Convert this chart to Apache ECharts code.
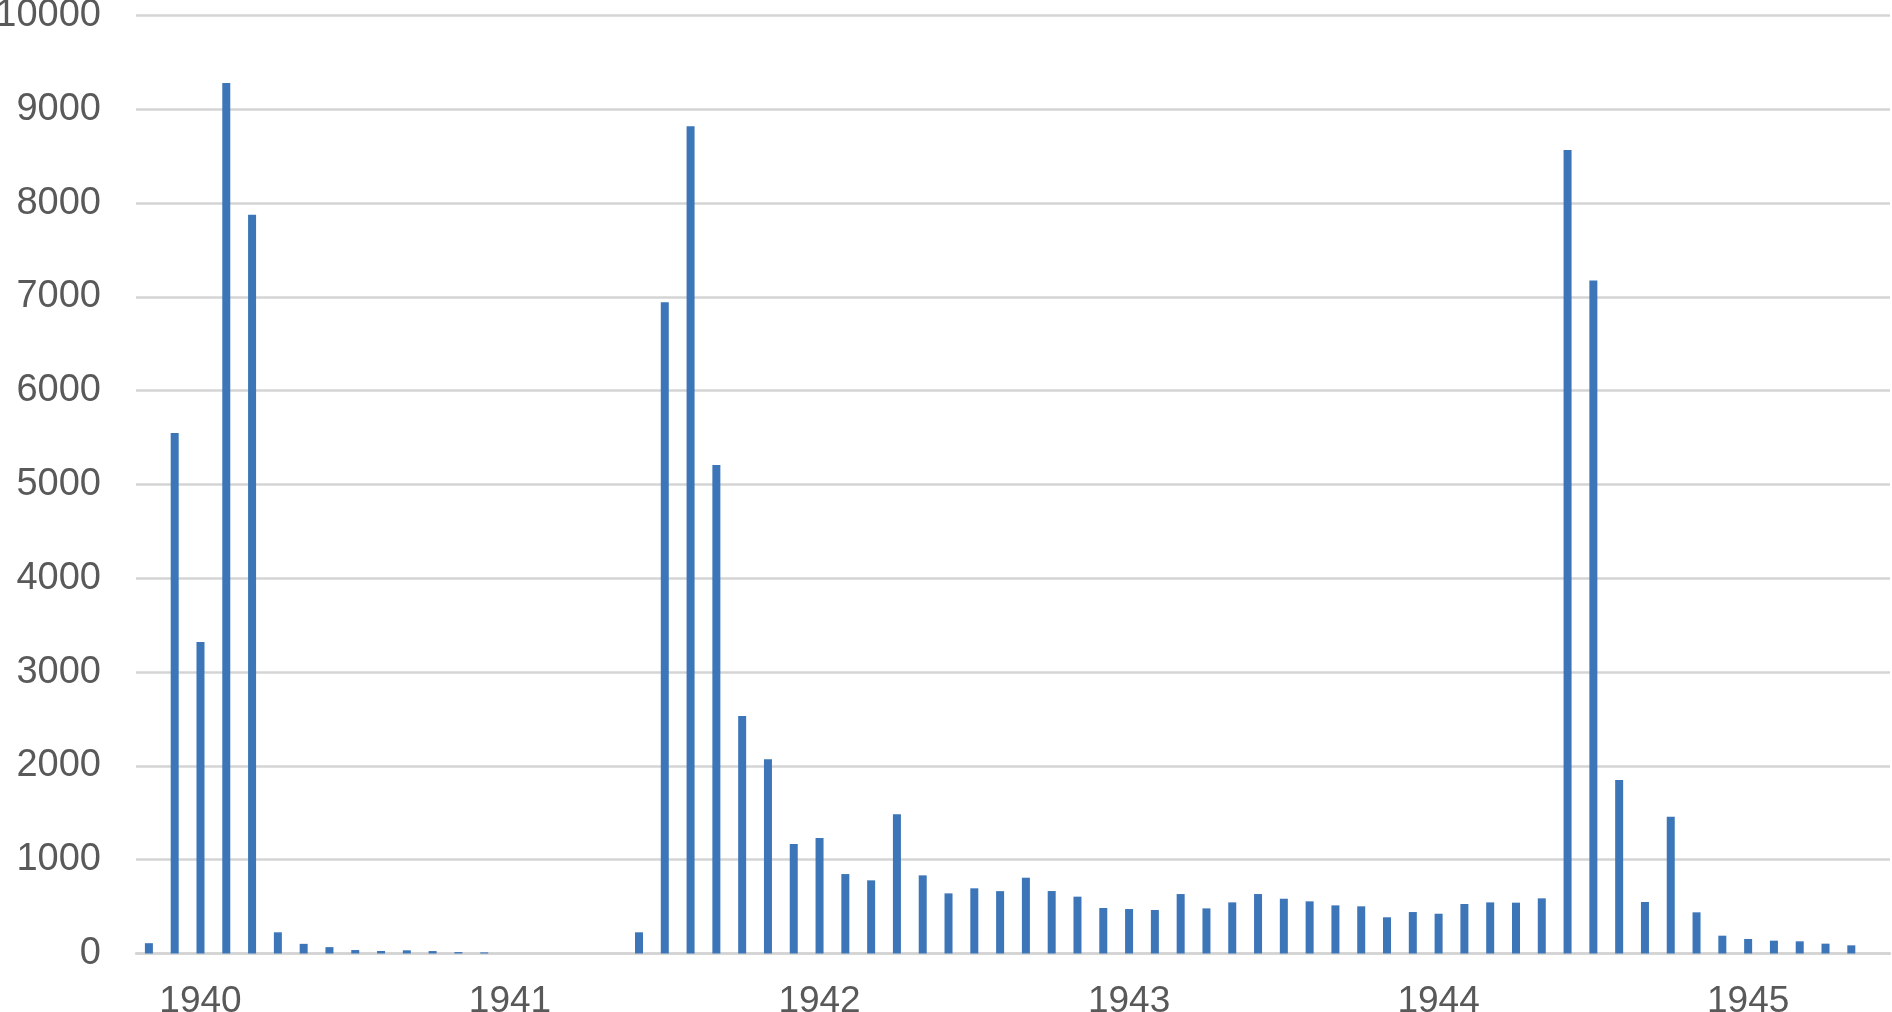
<!DOCTYPE html>
<html>
<head>
<meta charset="utf-8">
<script src="https://cdn.jsdelivr.net/npm/echarts@6/dist/echarts.min.js"></script>
<style>
html,body{margin:0;padding:0;background:#fff;}
#chart{width:1892px;height:1012px;}
</style>
</head>
<body>
<div id="chart"></div>
<script>
// Monthly categories, Nov 1939 .. Jun 1945
const months = [];
(function(){
  let y = 1939, m = 11;
  for (let i = 0; i < 68; i++) {
    months.push(y + '-' + String(m).padStart(2, '0'));
    m++; if (m > 12) { m = 1; y++; }
  }
})();

const values = [
  110, 5549, 3322, 9280, 7875, 226, 103, 68, 37, 27, 34, 26, 15, 12,
  0, 0, 0, 0, 0, 226,
  6942, 8820, 5207, 2532, 2070, 1167, 1231, 847, 780, 1484, 833, 641, 695, 665,
  808, 666, 606, 485, 474, 464, 634, 481, 545, 634, 584, 556, 513, 503, 386, 442, 424, 528, 545, 542, 588,
  8567, 7176, 1850, 549, 1459, 439, 190, 155, 137, 130, 105, 87,
  null
];

const yTicks = [0, 1000, 2000, 3000, 4000, 5000, 6000, 7000, 8000, 9000, 10000];

const chart = echarts.init(document.getElementById('chart'), null, {renderer: 'canvas'});
chart.setOption({
  animation: false,
  backgroundColor: '#ffffff',
  grid: {left: 136, right: 2, top: 15.5, bottom: 58.5, containLabel: false, outerBoundsMode: 'none'},
  xAxis: {
    type: 'category',
    data: months,
    boundaryGap: true,
    axisLine: {show: true, lineStyle: {color: '#d4d4d4', width: 2.5}},
    axisTick: {show: false},
    axisLabel: {
      interval: function (index, value) { return value.slice(5) === '01'; },
      formatter: function (value) { return value.slice(0, 4); },
      color: '#595959',
      fontFamily: 'Liberation Sans, Arial, sans-serif',
      fontSize: 37,
      margin: 30
    },
    splitLine: {show: false}
  },
  yAxis: {
    type: 'value',
    min: yTicks[0],
    max: yTicks[yTicks.length - 1],
    interval: 1000,
    axisLine: {show: false},
    axisTick: {show: false},
    axisLabel: {
      color: '#595959',
      fontFamily: 'Liberation Sans, Arial, sans-serif',
      fontSize: 38,
      margin: 35,
      formatter: function (v) { return String(v); }
    },
    splitLine: {lineStyle: {color: '#d4d4d4', width: 2.5}}
  },
  series: [{
    type: 'bar',
    data: values,
    barWidth: 8,
    itemStyle: {color: '#3d76b8'}
  }]
});
</script>
</body>
</html>
